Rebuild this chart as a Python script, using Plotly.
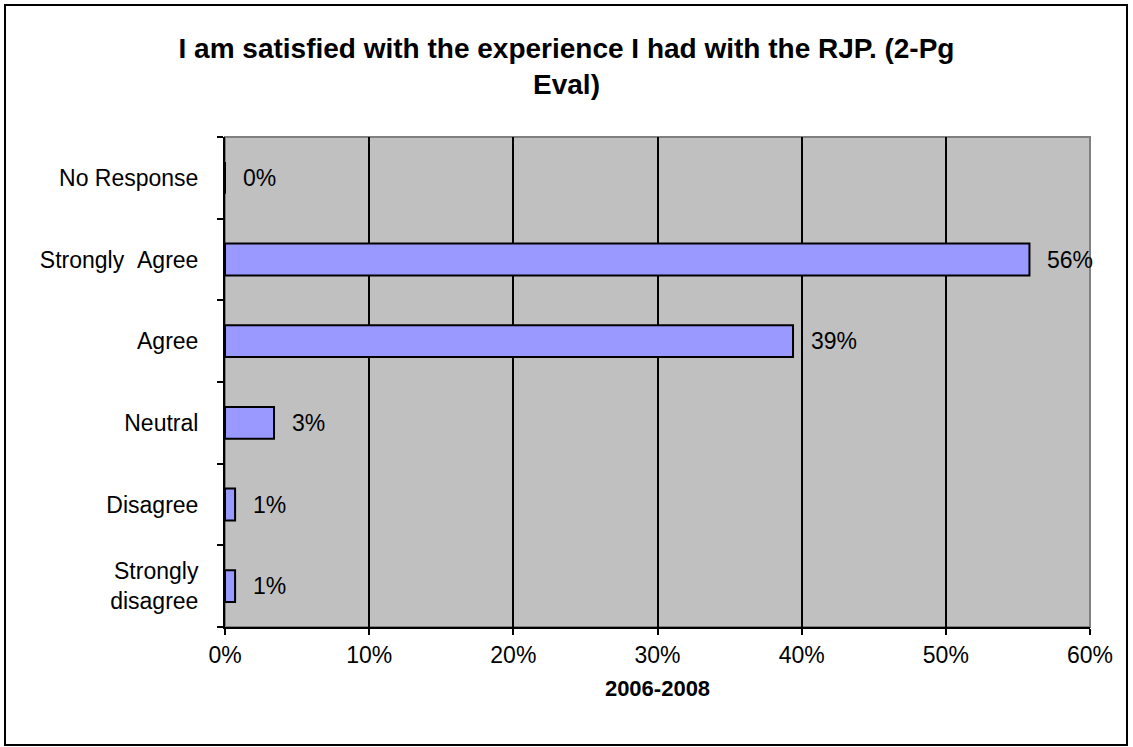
import plotly.graph_objects as go

# Survey responses, listed bottom-to-top as drawn on the category axis
categories = ["Strongly<br>disagree", "Disagree", "Neutral", "Agree",
              "Strongly\u00a0\u00a0Agree", "No Response"]
shares = [0.007, 0.007, 0.034, 0.394, 0.558, 0.0]

x_ticks = [0.0, 0.1, 0.2, 0.3, 0.4, 0.5, 0.6]

title_text = "I am satisfied with the experience I had with the RJP. (2-Pg<br>Eval)"
x_title = "2006-2008"

FONT = "Liberation Sans, Arial, sans-serif"
W, H = 1133, 747
L, R, T, B = 225, 43, 137, 120

fig = go.Figure()
fig.add_trace(go.Bar(
    x=shares,
    y=categories,
    orientation="h",
    width=0.39,
    marker=dict(color="#9999FF", line=dict(color="black", width=2)),
    hoverinfo="x+y",
))

# value labels just past the end of each bar
annotations = [
    dict(x=v, y=c, xref="x", yref="y", text=f"{v:.0%}", showarrow=False,
         xanchor="left", xshift=16, font=dict(family=FONT, size=23, color="black"))
    for c, v in zip(categories, shares)
]

pw, ph = W - L - R, H - T - B


def px_x(p):
    return (p - L) / pw


def px_y(p):
    return (H - B - p) / ph


shapes = [
    # grey frame of the plotting area
    dict(type="rect", xref="paper", yref="paper", x0=0, x1=1, y0=0, y1=1,
         line=dict(color="#808080", width=2), fillcolor="rgba(0,0,0,0)", layer="between"),
    # outer chart border
    dict(type="rect", xref="paper", yref="paper",
         x0=px_x(5), x1=px_x(1127), y0=px_y(745), y1=px_y(5),
         line=dict(color="black", width=2), fillcolor="rgba(0,0,0,0)", layer="above"),
]

fig.update_layout(
    width=W, height=H,
    margin=dict(l=L, r=R, t=T, b=B, pad=0),
    paper_bgcolor="white",
    plot_bgcolor="#C0C0C0",
    showlegend=False,
    font=dict(family=FONT, size=23, color="black"),
    title=dict(text=title_text, x=0.5, xref="container", xanchor="center",
               y=1 - 58 / H, yref="container", yanchor="top",
               font=dict(family=FONT, size=28, color="black", weight="bold")),
    annotations=annotations,
    shapes=shapes,
    bargap=0.61,
)

fig.update_xaxes(
    range=[0, 0.6],
    tickvals=x_ticks,
    tickformat=".0%",
    showgrid=True, gridcolor="black", gridwidth=2,
    zeroline=False,
    showline=True, linecolor="black", linewidth=2,
    ticks="outside", ticklen=6, tickwidth=2, tickcolor="black",
    tickfont=dict(family=FONT, size=23),
    title=dict(text=x_title, font=dict(family=FONT, size=22, weight="bold"), standoff=14),
    fixedrange=True,
)

fig.update_yaxes(
    type="category",
    categoryorder="array", categoryarray=categories,
    range=[-0.5, len(categories) - 0.5],
    showgrid=False, zeroline=False,
    showline=True, linecolor="black", linewidth=2,
    ticks="outside", ticklen=6, tickwidth=2, tickcolor="black",
    tickson="boundaries",
    ticklabelstandoff=20,
    tickfont=dict(family=FONT, size=23),
    fixedrange=True,
)

fig.write_html("out.html")
